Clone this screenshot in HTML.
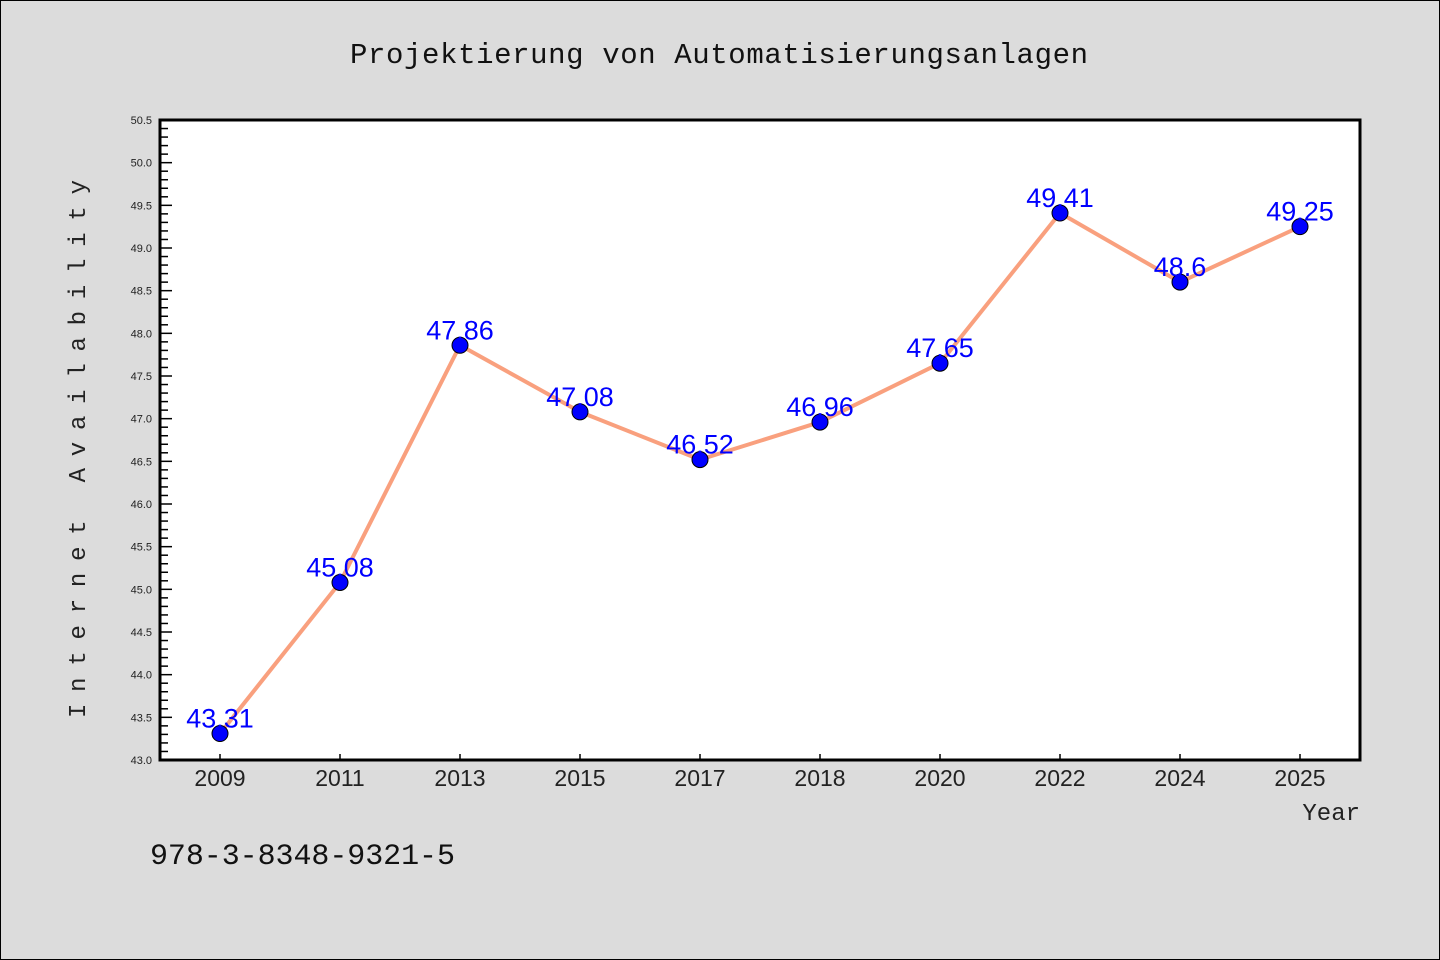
<!DOCTYPE html>
<html><head><meta charset="utf-8"><style>
html,body{margin:0;padding:0;background:#dcdcdc;}
svg{display:block;font-family:"Liberation Sans",sans-serif;}
</style></head><body>
<svg id="chart" width="1440" height="960">
<rect x="0.5" y="0.5" width="1439" height="959" fill="#dcdcdc" stroke="#000"/>
<text x="719" y="63" text-anchor="middle" font-family="Liberation Mono, monospace" font-size="29" fill="#111" textLength="738">Projektierung von Automatisierungsanlagen</text>
<rect x="160" y="120" width="1200" height="640" fill="#fff"/>
<text transform="translate(85,449) rotate(-90)" text-anchor="middle" font-family="Liberation Mono, monospace" font-size="24" fill="#222" textLength="538">Internet Availability</text>
<text x="1360" y="820" text-anchor="end" font-family="Liberation Mono, monospace" font-size="24" fill="#222">Year</text>
<text x="150" y="864" font-family="Liberation Mono, monospace" font-size="30" fill="#111" textLength="305">978-3-8348-9321-5</text>
<g id="axes"></g>
<g id="series"></g>
<rect x="160" y="120" width="1200" height="640" fill="none" stroke="#000" stroke-width="3"/>
</svg>
<script>
const categories=["2009","2011","2013","2015","2017","2018","2020","2022","2024","2025"];
const values=[43.31,45.08,47.86,47.08,46.52,46.96,47.65,49.41,48.6,49.25];
const valueLabels=["43.31","45.08","47.86","47.08","46.52","46.96","47.65","49.41","48.6","49.25"];
const yMin=43.0,yMax=50.5;
const NS="http://www.w3.org/2000/svg";
const L=160,R=1360,T=120,B=760;
const band=(R-L)/categories.length;
function xs(i){return L+band*(i+0.5);}
function ys(v){return B-(v-yMin)/(yMax-yMin)*(B-T);}
function mk(t,a,p){const e=document.createElementNS(NS,t);for(const k in a)e.setAttribute(k,a[k]);p.appendChild(e);return e;}
const ax=document.getElementById('axes');
for(let k=0;k<=75;k++){
  const v=yMin+k*0.1,y=ys(v),major=k%5===0;
  const t=mk('line',{x1:L,x2:L+(major?12:8),y1:y,y2:y,stroke:'#000','stroke-width':1.5},ax);
  
  
  if(major){
    const tx=mk('text',{x:L-8,y:y+4,'text-anchor':'end','font-size':11,fill:'#222'},ax);
    tx.textContent=v.toFixed(1);
    
    
  }
}
categories.forEach((c,i)=>{
  const x=xs(i);
  const t=mk('line',{x1:x,x2:x,y1:B,y2:B-6,stroke:'#000','stroke-width':1.5},ax);
  
  
  const tx=mk('text',{x:x,y:B+26,'text-anchor':'middle','font-size':23,fill:'#222'},ax);
  tx.textContent=c;
  
  
});
const sg=document.getElementById('series');
const pl=mk('polyline',{points:values.map((v,i)=>xs(i)+','+ys(v)).join(' '),fill:'none',stroke:'#f9a07e','stroke-width':4,'stroke-linejoin':'round'},sg);


values.forEach((v,i)=>{
  const c=mk('circle',{cx:xs(i),cy:ys(v),r:8,fill:'#0000ff',stroke:'#000','stroke-width':1},sg);
  
  
});
values.forEach((v,i)=>{
  const t=mk('text',{x:xs(i),y:ys(v)-6,'text-anchor':'middle','font-size':27,fill:'#0000ff'},sg);
  t.textContent=valueLabels[i];
  
  
});
</script>
</body></html>
